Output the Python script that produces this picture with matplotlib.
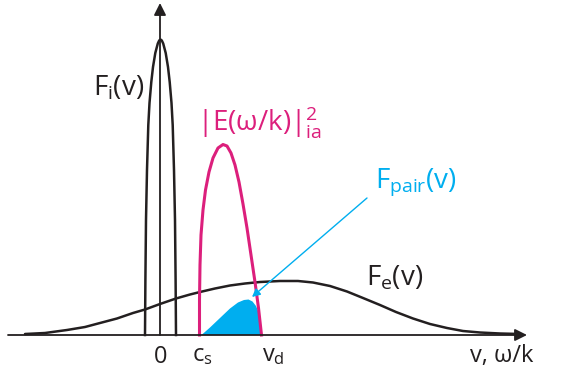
import numpy as np
import matplotlib
matplotlib.use("Agg")
import matplotlib.pyplot as plt

plt.rcParams['font.family'] = ['Open Sans', 'DejaVu Sans']
plt.rcParams['mathtext.fontset'] = 'custom'
plt.rcParams['mathtext.rm'] = 'Open Sans'
plt.rcParams['mathtext.it'] = 'Open Sans'
plt.rcParams['mathtext.bf'] = 'Open Sans:bold'

# ion distribution F_i(v), narrow peak at v = 0
fi_v = [-15.5, -15.1, -14.5, -13.5, -12.2, -11.0, -9.2, -7.5, -5.2, -2.7, -1.3, 0,
        1.3, 2.7, 5.2, 7.5, 9.2, 11.0, 12.2, 13.5, 14.5, 15.1, 15.5]
fi_f = [0, 55, 115, 165, 210, 232, 253, 268, 282, 291.5, 294.5, 295.5,
        294.5, 291.5, 282, 268, 253, 232, 210, 165, 115, 55, 0]

# ion-acoustic spectrum |E(w/k)|^2 between c_s and v_d
ek_v = [39, 39, 39.5, 40.5, 42.5, 45, 48.5, 52.5, 57.5, 62.5, 66.5, 70.5,
        74.5, 78.5, 82.5, 86.5, 90.5, 94.5, 98, 101]
ek_f = [0, 35, 70, 100, 125, 145, 163, 177, 187, 190.5, 189, 182,
        170, 153, 131, 107, 80, 53, 27, 0]

# pair distribution (filled)
fp_v = [41, 49.5, 59.5, 69.5, 77.5, 83.5, 88, 92, 95.5, 98, 101]
fp_f = [0, 7.5, 17, 26.5, 32.5, 35, 35.5, 33.5, 29, 23, 0]

# electron distribution F_e(v), broad and shifted
fe_v = [-135.5, -115.5, -93.5, -75.5, -60.5, -43.5, -27.5, -15.5, -0.5, 15.5,
        29.5, 39.5, 54.5, 69.5, 84.5, 99.5, 119.5, 137.5, 152.5, 169.5,
        186.5, 202.5, 219.5, 235.5, 252.5, 269.5, 286.5, 302.5, 319.5, 339.5, 359.5]
fe_f = [1, 2, 5, 8, 12, 16.5, 22, 25.5, 31, 36.5,
        40.5, 43, 46.5, 49.5, 51.5, 53, 54, 54, 52.5, 49,
        43.5, 37, 30, 23, 16.5, 11, 7, 4, 2.5, 1.5, 1]

tick_pos = [0.5, 31.5, 101.5]
tick_labels = ['0', '$c_s$', '$v_d$']

black = '#231f20'
magenta = '#dc1f7c'
cyan = '#00aeef'

fig = plt.figure(figsize=(5.82, 3.85), dpi=100)
ax = fig.add_axes([0, 0, 1, 1])
ax.set_xlim(-160.5, 421.5)
ax.set_ylim(-50, 335)
ax.axis('off')

# axes with arrows
ax.annotate('', xy=(366.5, 0), xytext=(-152.5, 0),
            arrowprops=dict(arrowstyle='-|>', color=black, lw=1.3,
                            mutation_scale=18, shrinkA=0, shrinkB=0))
ax.annotate('', xy=(-0.5, 332), xytext=(-0.5, 0),
            arrowprops=dict(arrowstyle='-|>', color=black, lw=1.3,
                            mutation_scale=18, shrinkA=0, shrinkB=0))

ax.fill(fp_v, fp_f, color=cyan, lw=0)
ax.plot(fe_v, fe_f, color=black, lw=1.8, solid_capstyle='round')
ax.plot(fi_v, fi_f, color=black, lw=1.8, solid_joinstyle='round')
ax.plot(ek_v, ek_f, color=magenta, lw=2.2, solid_joinstyle='round')

# pointer to F_pair
ax.annotate('', xy=(91.5, 38), xytext=(206.5, 137),
            arrowprops=dict(arrowstyle='-|>', color=cyan, lw=1.0,
                            mutation_scale=12, shrinkA=0, shrinkB=0))

# labels
ax.text(-67.5, 240, '$F_i(v)$', fontsize=20, color=black, va='baseline')
ax.text(36.5, 204, '$|E(ω/k)|_{ia}^2$', fontsize=20, color=magenta, va='baseline')
ax.text(214.5, 147, '$F_{pair}(v)$', fontsize=20, color=cyan, va='baseline')
ax.text(206, 50, '$F_e(v)$', fontsize=20, color=black, va='baseline')
ax.text(309.5, -27, 'v, ω/k', fontsize=17, color=black, va='baseline')

ax.text(tick_pos[0], -28, tick_labels[0], fontsize=17, color=black,
        ha='center', va='baseline')
for pos, lab in zip(tick_pos[1:], tick_labels[1:]):
    ax.text(pos, -26, lab, fontsize=17, color=black, ha='left', va='baseline')

fig.savefig('out.png', dpi=100)
